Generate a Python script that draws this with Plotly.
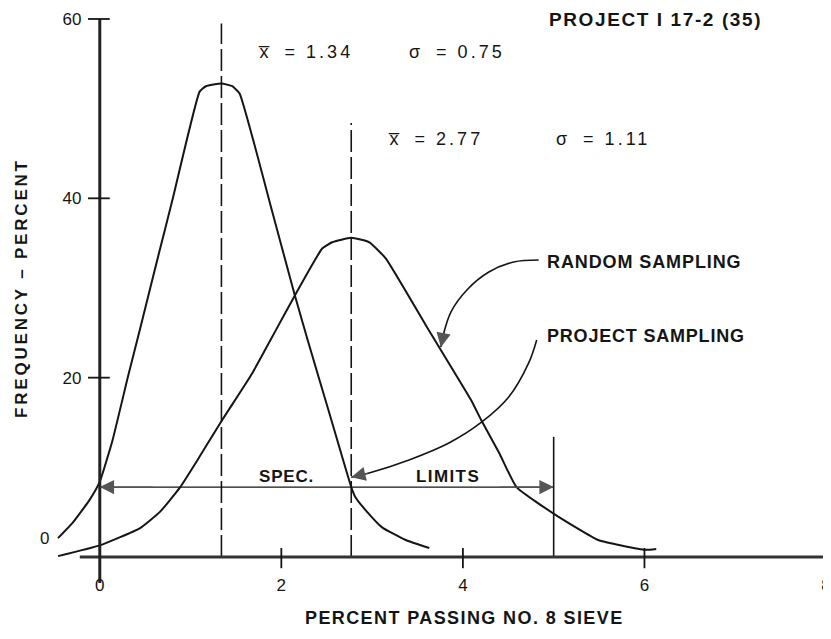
import plotly.graph_objects as go

# ---------------- data ----------------
project_x = [-0.46, -0.30, -0.11, 0.00, 0.14, 0.31, 0.44, 0.64, 0.80, 1.10, 1.17, 1.34, 1.46, 1.54,
             1.90, 2.14, 2.29, 2.53, 2.77, 2.82, 2.93, 3.11, 3.37, 3.63]
project_y = [2.1, 3.8, 6.4, 8.4, 13.0, 20.1, 25.3, 33.4, 39.8, 51.9, 52.5, 52.8, 52.5, 51.7,
             38.5, 29.5, 24.2, 16.0, 7.8, 6.6, 5.2, 3.3, 1.9, 1.0]

random_x = [-0.46, 0.00, 0.44, 0.66, 0.88, 1.10, 1.35, 1.68, 1.94, 2.14, 2.45, 2.56, 2.77, 2.97,
            3.15, 3.60, 4.09, 4.20, 4.40, 4.59, 5.02, 5.49, 6.01, 6.13]
random_y = [0.1, 1.3, 3.2, 5.0, 7.7, 11.2, 15.3, 20.5, 25.3, 29.0, 34.4, 35.1, 35.6, 35.1,
            33.3, 25.7, 17.5, 15.3, 11.6, 7.8, 4.7, 1.9, 0.8, 0.9]

means = [1.34, 2.77]
sigmas = [0.75, 1.11]
mean_line_tops = [59.5, 48.4]
spec_limits = [0, 5]
spec_level = 7.8
spec_post_top = 13.4
x_ticks = [0, 2, 4, 6, 8]
y_ticks = [20, 40, 60]

# leader lines (data coords) ending at the curves
random_leader_x = [4.835, 4.56, 4.286, 4.044, 3.868, 3.78, 3.758]
random_leader_y = [33.12, 32.9, 31.78, 29.78, 27.32, 24.6, 23.4]
project_leader_x = [4.813, 4.725, 4.505, 4.209, 3.846, 3.407, 2.967, 2.77]
project_leader_y = [24.2, 21.64, 17.84, 15.06, 12.71, 10.82, 9.37, 8.9]

# ---------------- page geometry ----------------
OFF = 8                       # default body margin of the page
W, H = 831 - OFF, 639 - 2 * OFF
SX, SY = 91.0, 8.967          # px per data unit
X0_PX, Y0_PX = 100, 557       # page position of the origin
X_RANGE = [-(X0_PX - OFF) / SX, (OFF + W - X0_PX) / SX]
Y_RANGE = [-(OFF + H - Y0_PX) / SY, (Y0_PX - OFF) / SY]
INK = "#151515"
FONT = "Liberation Sans"

fig = go.Figure()

curve_line = dict(color=INK, width=2, shape="spline", smoothing=0.4)
fig.add_trace(go.Scatter(x=project_x, y=project_y, mode="lines", line=curve_line,
                         name="PROJECT SAMPLING", hoverinfo="skip"))
fig.add_trace(go.Scatter(x=random_x, y=random_y, mode="lines", line=curve_line,
                         name="RANDOM SAMPLING", hoverinfo="skip"))

for m, top in zip(means, mean_line_tops):
    fig.add_trace(go.Scatter(x=[m, m], y=[0, top], mode="lines",
                             line=dict(color=INK, width=1.6, dash="22px,5px"), hoverinfo="skip"))

# spec limits
fig.add_trace(go.Scatter(x=[spec_limits[1], spec_limits[1]], y=[0, spec_post_top], mode="lines",
                         line=dict(color=INK, width=1.6), hoverinfo="skip"))
fig.add_trace(go.Scatter(x=spec_limits, y=[spec_level, spec_level], mode="lines",
                         line=dict(color=INK, width=1.3), hoverinfo="skip"))

# leader lines
fig.add_trace(go.Scatter(x=random_leader_x, y=random_leader_y, mode="lines",
                         line=dict(color=INK, width=1.6, shape="spline"), hoverinfo="skip"))
fig.add_trace(go.Scatter(x=project_leader_x, y=project_leader_y, mode="lines",
                         line=dict(color=INK, width=1.6, shape="spline"), hoverinfo="skip"))

# axis lines
fig.add_trace(go.Scatter(x=[-0.22, 8.1], y=[0, 0], mode="lines",
                         line=dict(color="#333", width=3), hoverinfo="skip"))
fig.add_trace(go.Scatter(x=[0, 0], y=[-2.9, 60], mode="lines",
                         line=dict(color="#222", width=3), hoverinfo="skip"))

shapes = []
for t in y_ticks:
    shapes.append(dict(type="line", xref="x", yref="y", x0=-0.13, x1=0.11, y0=t, y1=t,
                       line=dict(color=INK, width=1.8)))
for t in x_ticks[1:]:
    shapes.append(dict(type="line", xref="x", yref="y", x0=t, x1=t, y0=1.0, y1=-1.25,
                       line=dict(color=INK, width=1.8)))

annotations = []


def arrow(tip_x, tip_y, tail_x, tail_y):
    annotations.append(dict(x=tip_x, y=tip_y, ax=tail_x, ay=tail_y, xref="x", yref="y",
                            axref="x", ayref="y", text="", showarrow=True, arrowhead=2,
                            arrowsize=2.2, arrowwidth=1.3, arrowcolor="#555", standoff=0))


arrow(spec_limits[0], spec_level, 0.6, spec_level)
arrow(spec_limits[1], spec_level, 4.4, spec_level)
arrow(random_leader_x[-1], random_leader_y[-1], random_leader_x[-2], random_leader_y[-2])
arrow(project_leader_x[-1], project_leader_y[-1], project_leader_x[-2], project_leader_y[-2])


def label(text, px, py, size=16, bold=False, anchor="left", angle=0, spacing=0.0,
          family=FONT):
    if spacing:
        text = f'<span style="letter-spacing:{spacing}px">{text}</span>'
    if bold:
        text = f"<b>{text}</b>"
    annotations.append(dict(text=text, x=(px - OFF) / W, y=1 - (py - OFF) / H,
                            xref="paper", yref="paper", xanchor=anchor, yanchor="middle",
                            showarrow=False, textangle=angle,
                            font=dict(family=family, size=size, color=INK)))


def stat(symbol, value, px, py):
    label(f'{symbol}<span style="letter-spacing:3px">\u00a0\u00a0= {value:.2f}</span>',
          px, py, size=18)


label("PROJECT I 17-2 (35)", 657, 20, size=19, bold=True, anchor="center", spacing=1.6)
stat("x\u0305", means[0], 257, 52)
stat("\u03c3", sigmas[0], 408, 52)
stat("x\u0305", means[1], 387, 139)
stat("\u03c3", sigmas[1], 555, 139)
label("RANDOM SAMPLING", 546, 262, size=18, bold=True, spacing=0.9)
label("PROJECT SAMPLING", 546, 336, size=18, bold=True, spacing=0.8)
label("SPEC.", 258, 477, size=17, bold=True, spacing=0.8)
label("LIMITS", 415, 476, size=17, bold=True, spacing=1.4)
label("PERCENT PASSING NO. 8 SIEVE", 466, 618, size=18, bold=True, anchor="center", spacing=1.4)
label("FREQUENCY \u2013 PERCENT", 21, 288, size=17, bold=True, anchor="center", angle=-90,
      spacing=2.8)
label("0", 45, 538, size=17, anchor="center")

fig.update_layout(
    width=W, height=H,
    margin=dict(l=0, r=0, t=0, b=0),
    paper_bgcolor="white", plot_bgcolor="white",
    showlegend=False,
    shapes=shapes, annotations=annotations,
    xaxis=dict(range=X_RANGE, domain=[0, 1], anchor="free",
               position=(OFF + H - Y0_PX) / H,
               showgrid=False, zeroline=False, showline=False,
               tickvals=x_ticks, ticktext=[str(t) for t in x_ticks],
               ticks="outside", ticklen=13, tickcolor="rgba(0,0,0,0)",
               ticklabeloverflow="allow",
               tickfont=dict(family=FONT, size=17, color=INK), fixedrange=True),
    yaxis=dict(range=Y_RANGE, domain=[0, 1], anchor="free",
               position=(X0_PX - OFF) / W,
               showgrid=False, zeroline=False, showline=False,
               tickvals=y_ticks, ticktext=[str(t) for t in y_ticks],
               ticks="outside", ticklen=15, tickcolor="rgba(0,0,0,0)",
               ticklabeloverflow="allow",
               tickfont=dict(family=FONT, size=17, color=INK), fixedrange=True),
)

fig.write_html("out.html")
